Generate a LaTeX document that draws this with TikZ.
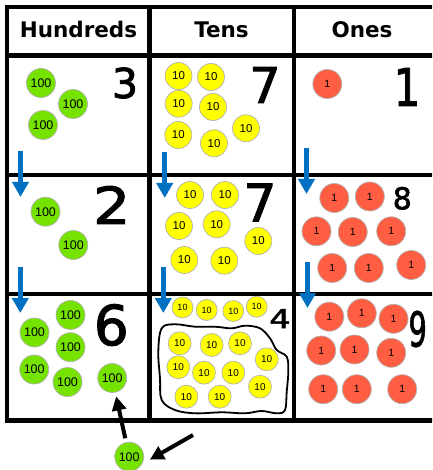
\documentclass[tikz,border=0pt]{standalone}
\usepackage{fontspec}
\setmainfont{Liberation Sans}
\newfontfamily\headfont{DejaVu Sans}
\newfontfamily\handfont[FakeBold=2]{DejaVu Sans}
\usetikzlibrary{arrows.meta}
\definecolor{coingreen}{RGB}{118,226,0}
\definecolor{coinyellow}{RGB}{255,255,0}
\definecolor{coinred}{RGB}{255,94,67}
\definecolor{arrowblue}{RGB}{0,112,192}
\newcommand{\handsize}[1]{\handfont\fontsize{#1}{#1}\selectfont}
\tikzset{
  gridline/.style={line width=4.3pt},
  coin/.style={circle, draw=black!30, line width=0.7pt, inner sep=0pt},
  hundred/.style={coin, fill=coingreen, minimum size=29pt, font=\fontsize{12.5}{12.5}\selectfont},
  ten/.style={coin, fill=coinyellow, minimum size=27pt, font=\fontsize{11.5}{11.5}\selectfont},
  blobten/.style={ten, minimum size=23pt, font=\fontsize{10}{10}\selectfont},
  smallten/.style={ten, minimum size=21pt, font=\fontsize{9}{9}\selectfont},
  one/.style={coin, fill=coinred, minimum size=29pt, font=\fontsize{10.5}{10.5}\selectfont},
  digit/.style={inner sep=0pt},
  heading/.style={anchor=base, font=\headfont\bfseries\fontsize{21.5}{21.5}\selectfont},
  carry/.style={arrowblue, line width=4.5pt, -{Triangle[length=15pt,width=16pt]}},
  regroup/.style={line width=4pt, -{Triangle[length=14pt,width=14pt]}, shorten >=4pt, shorten <=4pt}
}
\begin{document}
\begin{tikzpicture}[x=1pt,y=-1pt]
    \useasboundingbox (0,0) rectangle (432,470);
    \clip (0,0) rectangle (432,470);
    % grid
    \draw [gridline] (7.3,7) rectangle (436,420.5);
    \draw [gridline] (7.3,55.5) -- (436,55.5);\draw [gridline] (7.3,175) -- (436,175);\draw [gridline] (7.3,294) -- (436,294);
    \draw [gridline] (149.5,7) -- (149.5,420.5);\draw [gridline] (294,7) -- (294,420.5);
    % heading
    \node [heading] (hhead) at (78.5,37.5) {Hundreds};
    \node [heading] (thead) at (221.5,37.5) {Tens};
    \node [heading] (ohead) at (362,37.5) {Ones};
    % coins hundreds
    \foreach \x/\y [count=\i] in {41/83,73/104,43/125} \node [hundred] (h1-\i) at (\x,\y) {100};
    \foreach \x/\y [count=\i] in {45.5/211.7,73.3/245} \node [hundred] (h2-\i) at (\x,\y) {100};
    \foreach \x/\y [count=\i] in {34.5/332.5,70.5/315,70.5/347.2,34.2/369.5,67.5/382,112.2/378} \node [hundred] (h3-\i) at (\x,\y) {100};
    \node [hundred] (extra) at (129.2,456.7) {100};
    % coins tens
    \foreach \x/\y [count=\i] in {178.5/76,211/77,178.7/103.7,213/107,178.3/135,214/143.3,246/128.3} \node [ten] (t1-\i) at (\x,\y) {10};
    \foreach \x/\y [count=\i] in {190/195,225/195,179/226,216.7/224.3,184.3/260,224.3/260.7,258.3/241} \node [ten] (t2-\i) at (\x,\y) {10};
    \foreach \x/\y [count=\i] in {182.5/307.5,206.7/310,233.3/311,256.7/306.7} \node [smallten] (t3-\i) at (\x,\y) {10};
    \foreach \x/\y [count=\i] in {179.7/343.3,211.7/345,240/343.3,266.7/359.3,178.3/367.2,204/372.7,233.3/372.7,260/386.7,186.3/396.7,219.7/396.7} \node [blobten] (b3-\i) at (\x,\y) {10};
    % coins ones
    \node [one] (o1-1) at (327.3,84) {1};
    \foreach \x/\y [count=\i] in {334.3/198,369.8/196.5,316.5/231.3,352.7/232,391.2/231.3,332.2/268,368.8/268,411.2/265} \node [one] (o2-\i) at (\x,\y) {1};
    \foreach \x/\y [count=\i] in {329.3/316.7,361.8/313.3,393.5/318.8,321.2/350.5,354.5/349.5,391.2/352.8,323.2/389.2,356.8/389.2,402.2/389.2} \node [one] (o3-\i) at (\x,\y) {1};
    % blob
    \draw [line width=1.8pt] plot [smooth cycle, tension=0.6] coordinates {(161.7,328.3) (175,324.3) (195,326.7) (215,326.7) (231.7,328.3) (245,325.7) (260,328.3) (270,338.3) (276.7,350) (286.7,356.7) (288.3,371.7) (286.7,391.7) (285,410) (276.7,413.3) (261.7,411) (245,413.3) (221.7,412.3) (195,413.3) (175,410) (161.7,400) (160,378.3) (158.3,351.7)};
    % digits
    \node [digit, font=\handsize{41}] (d1h) at (125,83) {3};
    \node [digit, font=\handsize{49}] (d1t) at (265,85) {7};
    \node [digit, font=\handsize{52}, xscale=0.8] (d1o) at (407,87) {1};
    \node [digit, font=\handsize{51}, xscale=1.15] (d2h) at (111.7,205) {2};
    \node [digit, font=\handsize{52}] (d2t) at (260,202.5) {7};
    \node [digit, font=\handsize{30}] (d2o) at (402.3,198.3) {8};
    \node [digit, font=\handsize{55}] (d3h) at (111.3,325) {6};
    \node [digit, font=\handsize{26}, xscale=1.3] (d3t) at (280,318.7) {4};
    \node [digit, font=\handsize{48}, xscale=0.6] (d3o) at (417.7,329) {9};
    % arrows
    \foreach \x/\ya/\yb [count=\i] in {20.5/151/197,20.3/267/313,164.7/152/198,163.3/267/313,306.5/148/194,307.5/262/308} {
        \coordinate (c\i s) at (\x,\ya);\coordinate (c\i e) at (\x,\yb);
        \draw [carry] (c\i s) -- (c\i e);
    }
    \coordinate (push) at (193,435);
    \draw [regroup] (extra) -- (h3-6);
    \draw [regroup, shorten <=0pt, shorten >=9pt] (push) -- (extra.-30);
\end{tikzpicture}
\end{document}
